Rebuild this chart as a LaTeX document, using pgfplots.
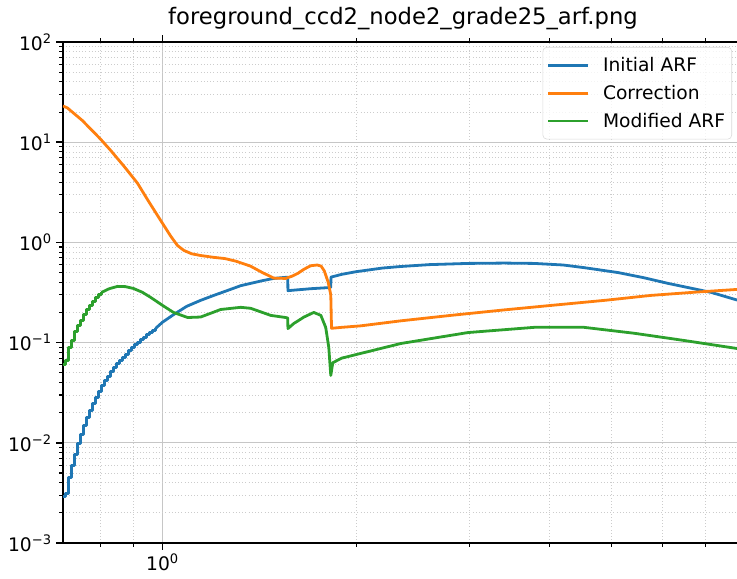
\documentclass[border=0pt]{standalone}
\usepackage{fontspec}
\setmainfont{DejaVu Sans}
\usepackage{pgfplots}
\pgfplotsset{compat=1.18}
\definecolor{c0}{HTML}{1F77B4}
\definecolor{c1}{HTML}{FF7F0E}
\definecolor{c2}{HTML}{2CA02C}

\begin{document}
\begin{tikzpicture}
\begin{axis}[
  name=ax,
  scale only axis,
  width=510pt, height=375.75pt,
  xmode=log, ymode=log,
  xmin=0.7, xmax=8, ymin=1e-3, ymax=1e2,
  xtick={1}, xticklabels={10\textsuperscript{0}},
  ytick={1e-3,1e-2,1e-1,1,10,100},
  yticklabels={10\textsuperscript{−3},10\textsuperscript{−2},10\textsuperscript{−1},10\textsuperscript{0},10\textsuperscript{1},10\textsuperscript{2}},
  minor xtick={0.8,0.9,2,3,4,5,6,7},
  minor ytick={2e-3,3e-3,4e-3,5e-3,6e-3,7e-3,8e-3,9e-3,
               2e-2,3e-2,4e-2,5e-2,6e-2,7e-2,8e-2,9e-2,
               0.2,0.3,0.4,0.5,0.6,0.7,0.8,0.9,
               2,3,4,5,6,7,8,9,20,30,40,50,60,70,80,90},
  grid=both,
  major grid style={gray!45, line width=0.7pt},
  minor grid style={gray!40, dotted, line width=0.6pt},
  tick align=outside,
  major tick length=4.9pt, minor tick length=2.8pt,
  major tick style={black, line width=1.1pt},
  minor tick style={black, line width=0.8pt},
  axis line style={line width=1.1pt},
  ticklabel style={font=\fontsize{14}{17}\selectfont},
  title={foreground\_ccd2\_node2\_grade25\_arf.png},
  title style={font=\fontsize{17}{20}\selectfont, at={(0.5,1)}, anchor=base, yshift=6.75pt},
  legend cell align=left,
  legend style={at={(1,1)}, anchor=north east, xshift=-8.25pt, yshift=-3.75pt,
    draw=gray!30, rounded corners=3pt, fill=white, fill opacity=0.8, text opacity=1,
    font=\fontsize{14}{17}\selectfont, row sep=4.75pt, column sep=8pt, inner ysep=5.5pt},
  legend image code/.code={\draw[#1, line width=2.1pt] (0pt,0pt) -- (30pt,0pt);},
  every axis plot/.append style={line width=2.1pt, line join=round},
]

% Initial ARF
\addplot[c0] coordinates {
  (0.9752,0.1386) (1.0,0.16) (1.04,0.19) (1.09,0.23) (1.146,0.264) (1.2,0.295)
  (1.276,0.34) (1.323,0.37) (1.371,0.39) (1.43,0.415) (1.489,0.437) (1.566,0.45)
  (1.567,0.33) (1.7,0.345) (1.827,0.355) (1.828,0.45) (1.9,0.48) (2.0,0.51)
  (2.2,0.555) (2.349,0.575) (2.6,0.60) (2.987,0.617) (3.4,0.622) (3.785,0.617)
  (4.2,0.595) (4.527,0.56) (5.113,0.50) (5.6,0.445) (6.116,0.39) (7.139,0.317)
  (7.864,0.264) (8.0,0.255)
};
\addlegendentry{Initial ARF}
\addplot[c0, const plot, forget plot] coordinates {
  (0.70,0.0029) (0.7061,0.00313) (0.7140,0.00452) (0.7217,0.00595) (0.7295,0.00766)
  (0.7375,0.00986) (0.7454,0.01213) (0.7530,0.0149) (0.7614,0.01792) (0.7697,0.0211)
  (0.7780,0.0247) (0.7863,0.0284) (0.7949,0.0326) (0.8035,0.0374) (0.8122,0.0419)
  (0.8209,0.0460) (0.8299,0.0516) (0.8389,0.0566) (0.8479,0.0620) (0.8570,0.0664)
  (0.8664,0.0712) (0.8757,0.0762) (0.8852,0.0836) (0.8948,0.0895) (0.9045,0.0959)
  (0.9143,0.1005) (0.9242,0.1076) (0.9342,0.1127) (0.9443,0.1207) (0.9545,0.1264)
  (0.9648,0.1324) (0.9752,0.1386)
};

% Correction
\addplot[c1] coordinates {
  (0.70,23) (0.711,22) (0.75,16.5) (0.80,10.8) (0.83,8.3) (0.87,5.8) (0.914,3.9)
  (0.95,2.6) (0.993,1.66) (1.03,1.15) (1.055,0.93) (1.08,0.83) (1.11,0.77)
  (1.146,0.74) (1.20,0.71) (1.25,0.69) (1.30,0.65) (1.37,0.58) (1.43,0.50)
  (1.49,0.44) (1.554,0.437) (1.59,0.46) (1.623,0.49) (1.66,0.54) (1.70,0.585)
  (1.74,0.595) (1.765,0.58) (1.785,0.52) (1.81,0.40) (1.827,0.30) (1.832,0.139)
  (1.90,0.142) (2.034,0.147) (2.349,0.165) (2.81,0.187) (3.4,0.212) (4.021,0.235)
  (4.9,0.265) (5.756,0.296) (6.8,0.32) (7.864,0.34) (8.0,0.343)
};
\addlegendentry{Correction}

% Modified ARF
\addplot[c2] coordinates {
  (0.8035,0.317) (0.826,0.345) (0.851,0.364) (0.875,0.362) (0.901,0.347)
  (0.93,0.318) (0.958,0.283) (1.0,0.235) (1.04,0.2) (1.094,0.178) (1.146,0.18)
  (1.19,0.197) (1.231,0.214) (1.323,0.225) (1.371,0.22) (1.473,0.187)
  (1.554,0.178) (1.566,0.176) (1.567,0.138) (1.60,0.155) (1.66,0.18) (1.719,0.2)
  (1.763,0.187) (1.794,0.142) (1.814,0.09) (1.827,0.047) (1.840,0.063) (1.9,0.07)
  (2.034,0.078) (2.349,0.098) (2.987,0.126) (3.785,0.142) (4.527,0.142)
  (5.416,0.124) (6.479,0.105) (7.864,0.087) (8.0,0.085)
};
\addlegendentry{Modified ARF}
\addplot[c2, const plot, forget plot] coordinates {
  (0.70,0.060) (0.7061,0.0664) (0.7140,0.0895) (0.7217,0.105) (0.7295,0.1294)
  (0.7375,0.1485) (0.7454,0.1666) (0.7530,0.191) (0.7614,0.2145) (0.7697,0.235)
  (0.7780,0.2577) (0.7863,0.283) (0.7949,0.3029) (0.8035,0.317)
};

\end{axis}
\pgfresetboundingbox
\useasboundingbox ([xshift=-47.25pt,yshift=-26.25pt]ax.south west) rectangle ([xshift=-4.5pt,yshift=31.5pt]ax.north east);
\end{tikzpicture}
\end{document}
